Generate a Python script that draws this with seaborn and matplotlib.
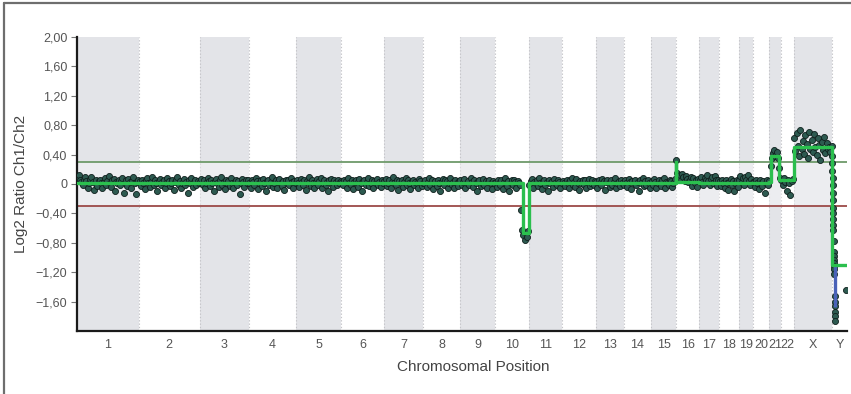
import numpy as np
import pandas as pd
import matplotlib.pyplot as plt
from matplotlib.lines import Line2D
import seaborn as sns

# chromosomes and their lengths (Mb)
chroms = ['1', '2', '3', '4', '5', '6', '7', '8', '9', '10', '11', '12', '13', '14',
          '15', '16', '17', '18', '19', '20', '21', '22', 'X', 'Y']
chrom_len = [249.3, 243.2, 198.0, 191.2, 180.9, 171.1, 159.1, 146.4, 141.2, 135.5,
             135.0, 133.9, 115.2, 107.3, 102.5, 90.4, 81.2, 78.1, 59.1, 63.0,
             48.1, 51.3, 155.3, 59.4]

# log2 ratios (x100), spread along each chromosome in order
ratios = {
    '1': "8 12 5 3 -2 6 9 4 -5 2 7 10 3 -8 1 5 -3 4 6 2 -6 3 8 -1 4 11 2 -4 5 7 -9 3 1 6 -2 4 8 -12 2 5 -3 7 3 -6 4 9 1 -14 3 6",
    '2': "4 -3 6 2 -7 5 8 1 -4 3 9 -2 5 2 -10 4 7 -1 3 6 -5 2 8 4 -3 1 6 -8 3 5 10 -2 4 -6 2 7 -1 3 -12 5 2 8 -4 3 6 -2 4 1",
    '3': "3 7 -2 5 -6 2 8 4 -3 6 1 -9 4 7 2 -4 5 9 -1 3 -7 6 2 4 -3 8 1 -5 3 6 -2 4 -14 2 7 3 -4 5 1 6",
    '4': "2 -5 6 3 -2 8 4 -7 1 5 -3 7 2 -10 4 6 -1 3 9 -4 2 5 -6 3 7 1 -3 4 -8 6 2 5 -2 8 3 -5 4 1",
    '5': "5 2 -4 7 3 -1 6 -8 4 2 9 -3 5 1 -6 3 7 -2 4 8 -5 2 6 -1 3 -9 5 7 2 -4 6 3 -2 5 1 4",
    '6': "3 -2 6 4 -5 8 2 -1 5 -7 3 6 1 -4 7 2 -9 4 5 -2 3 8 -3 1 6 -6 4 2 7 -1 3 -4 5 2",
    '7': "4 7 -3 2 6 -6 3 9 1 -2 5 -8 4 2 6 -4 3 8 -1 5 2 -7 4 6 -2 3 1 -5 7 4 -3 2",
    '8': "2 6 -4 3 8 -1 5 -7 2 4 -3 6 1 -10 3 7 -2 5 4 -5 2 8 -1 3 -6 5 2 -3 4",
    '9': "5 -2 3 7 -6 2 4 -1 8 3 -4 5 1 -9 4 6 -3 2 7 -1 4 -5 3 6 2 -7 4 1",
    '10': "3 -4 6 2 -1 5 -7 3 8 1 -3 4 -9 2 6 -2 5 3 -6 4 1 -2 -35 -62 -70 -76 -66 -72 -64",
    '11': "-2 4 7 -5 3 1 6 -3 8 2 -7 4 5 -1 3 -10 6 2 4 -4 7 1 -2 5 3 -6 2",
    '12': "4 1 -3 6 2 -6 5 8 -2 3 -4 7 1 -8 4 2 6 -1 5 -5 3 7 -3 2 5 -2 4",
    '13': "3 -5 6 2 -2 7 4 -8 3 5 1 -4 6 -1 3 8 -6 2 4 -3 5 1 -2",
    '14': "5 2 -4 7 3 -7 4 1 6 -2 3 -10 5 2 8 -3 4 -1 6 2 -5",
    '15': "4 -2 7 3 -5 2 6 1 -3 5 8 -6 3 2 -1 6 4 -4 2 7 33",
    '16': "15 10 12 6 13 9 4 11 7 3 5 10 -3 8 2 6 -4 7",
    '17': "5 10 3 -2 8 6 12 4 -1 7 9 2 11 5 -3 6",
    '18': "4 -3 6 2 -6 5 1 -8 3 7 -2 4 -10 2 5 -4",
    '19': "6 11 3 8 -2 9 5 12 4 -1 7 3",
    '20': "3 -4 6 2 -7 5 1 -3 4 -12 2 6 -2",
    '21': "4 25 36 42 46 38 43 35 22 8",
    '22': "5 -2 8 3 -10 6 2 -15 4 7",
    'X': "62 45 70 52 38 74 48 58 41 66 55 36 71 47 60 44 68 50 40 63 53 33 57 46 64 42 56 48 50 43 52",
}
# chromosome Y points (position Mb, log2 ratio)
y_pos = [0.5, 0.8, 1.1, 1.4, 1.7, 2.0, 2.3, 2.6, 2.9, 3.2, 3.5, 5.0, 5.5, 6.0, 6.5,
         7.0, 7.5, 8.0, 8.5, 9.0, 9.5, 10.0, 10.5, 11.0, 11.5, 12.0, 54.0]
y_val = [0.38, 0.28, 0.18, 0.08, -0.02, -0.12, -0.22, -0.32, -0.40, -0.48, -0.56,
         -0.62, -0.78, -0.92, -0.98, -1.04, -1.08, -1.12, -1.16, -1.22, -1.52, -1.60,
         -1.66, -1.74, -1.80, -1.86, -1.44]

# segmentation: chromosome, start, end (Mb), level
segments = [('1', 0, 249.3, 0.02), ('2', 0, 243.2, 0.02), ('3', 0, 198.0, 0.02),
            ('4', 0, 191.2, 0.02), ('5', 0, 180.9, 0.02), ('6', 0, 171.1, 0.02),
            ('7', 0, 159.1, 0.02), ('8', 0, 146.4, 0.02), ('9', 0, 141.2, 0.02),
            ('10', 0, 112.0, 0.01), ('10', 112.0, 135.5, -0.67),
            ('11', 0, 135.0, 0.01), ('12', 0, 133.9, 0.01), ('13', 0, 115.2, 0.01),
            ('14', 0, 107.3, 0.01), ('15', 0, 100.0, 0.02), ('15', 100.0, 102.5, 0.30),
            ('16', 0, 90.4, 0.03), ('17', 0, 81.2, 0.02), ('18', 0, 78.1, 0.02),
            ('19', 0, 59.1, 0.02), ('20', 0, 63.0, 0.02),
            ('21', 0, 9.0, 0.03), ('21', 9.0, 40.0, 0.38), ('21', 40.0, 48.1, 0.05),
            ('22', 0, 51.3, 0.05), ('X', 0, 155.3, 0.50), ('Y', 0, 59.4, -1.10)]
# second (blue) segment in chromosome Y: position, from, to
blue_seg = ('Y', 10.5, -1.12, -1.68)

ytick_vals = [2.0, 1.6, 1.2, 0.8, 0.4, 0, -0.4, -0.8, -1.2, -1.6]
ytick_labels = ['2,00', '1,60', '1,20', '0,80', '0,40', '0',
                '\u22120,40', '\u22120,80', '\u22121,20', '\u22121,60']

starts = dict(zip(chroms, np.concatenate([[0], np.cumsum(chrom_len)[:-1]])))
lengths = dict(zip(chroms, chrom_len))
total = sum(chrom_len)

rows = []
for c, s in ratios.items():
    vals = np.array(s.split(), dtype=float) / 100
    n = len(vals)
    pos = (np.arange(n) + 0.5) / n * lengths[c]
    for p, v in zip(pos, vals):
        rows.append((starts[c] + p, v))
for p, v in zip(y_pos, y_val):
    rows.append((starts['Y'] + p, v))
pts = pd.DataFrame(rows, columns=['x', 'y'])

seg_rows = []
for c, a, b, v in segments:
    seg_rows.append((starts[c] + a, v))
    seg_rows.append((starts[c] + b, v))
seg_df = pd.DataFrame(seg_rows, columns=['x', 'y'])

sns.set_style("white")
plt.rcParams['font.family'] = ['Liberation Sans', 'DejaVu Sans']

fig = plt.figure(figsize=(8.51, 3.94), dpi=100)
ax = fig.add_axes([77 / 851, 1 - 331 / 394, 770 / 851, 294 / 394])

# alternating chromosome bands
for i, c in enumerate(chroms):
    if i % 2 == 0:
        ax.axvspan(starts[c], starts[c] + lengths[c], color='#e3e4e8', lw=0, zorder=0)
    if i > 0:
        ax.axvline(starts[c], color='#c4c4c8', ls=(0, (1.2, 1.8)), lw=0.8, zorder=0.5)
ax.axhspan(-0.3, 0.3, color='white', alpha=0.35, lw=0, zorder=0.6)

ax.axhline(0.3, color='#6e9a6a', lw=1.3, zorder=1)
ax.axhline(-0.3, color='#9c4a48', lw=1.3, zorder=1)

sns.scatterplot(data=pts, x='x', y='y', s=19, color='#2d5a50', edgecolor='#0f1f1c',
                linewidth=0.6, zorder=3, ax=ax, legend=False)
sns.lineplot(data=seg_df, x='x', y='y', sort=False, estimator=None,
             color='#2bbf4e', lw=2.4, zorder=4, ax=ax)
c, p, y0, y1 = blue_seg
ax.vlines(starts[c] + p, y1, y0, color='#4a62b8', lw=2.4, zorder=3.5)

ax.set_xlim(0, total)
ax.set_ylim(-2, 2)

centers = [starts[c] + lengths[c] / 2 for c in chroms]
ax.set_xticks(centers)
ax.set_xticklabels(chroms)
ax.set_xticks([starts[c] for c in chroms[1:]], minor=True)
ax.tick_params(axis='x', which='major', length=0, pad=6, labelsize=9, labelcolor='#555555')
ax.tick_params(axis='x', which='minor', length=2, color='#888888', direction='in')
ax.set_yticks(ytick_vals)
ax.set_yticklabels(ytick_labels)
ax.tick_params(axis='y', length=4, width=0.8, color='#777777', pad=3,
               labelsize=9, labelcolor='#555555', left=True)

for side in ['top', 'right']:
    ax.spines[side].set_visible(False)
for side in ['left', 'bottom']:
    ax.spines[side].set_color('#1a1a1a')
    ax.spines[side].set_linewidth(1.6)

ax.set_ylabel('Log2 Ratio Ch1/Ch2', fontsize=11, color='#444444')
ax.set_xlabel('Chromosomal Position', fontsize=11, color='#444444')
ax.yaxis.set_label_coords(-0.064, 0.5)
ax.xaxis.set_label_coords(0.515, -0.1)

# outer frame (left and top)
fig.add_artist(Line2D([4 / 851, 4 / 851], [0, 1 - 3 / 394], transform=fig.transFigure,
                      color='#6e6e6e', lw=1.6))
fig.add_artist(Line2D([4 / 851, 1], [1 - 3 / 394, 1 - 3 / 394], transform=fig.transFigure,
                      color='#6e6e6e', lw=1.6))

fig.savefig('out.png', dpi=100)
